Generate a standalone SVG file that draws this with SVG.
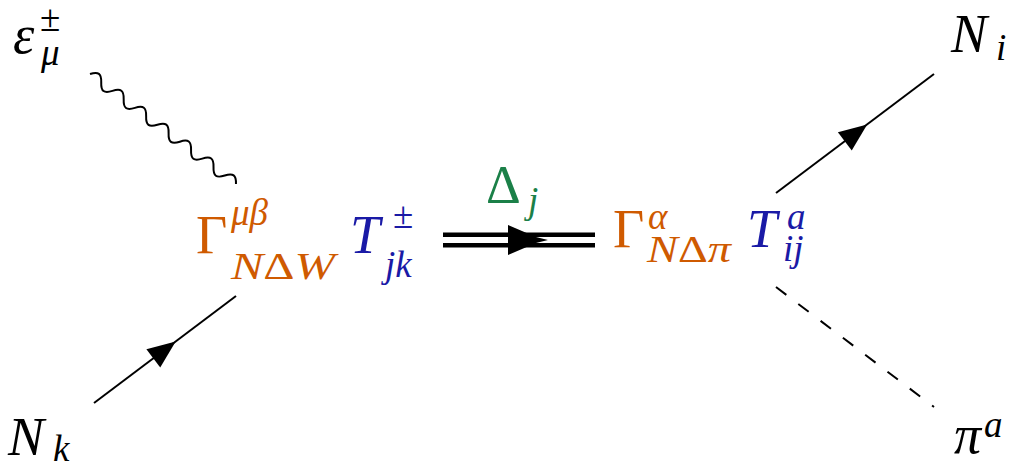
<svg xmlns="http://www.w3.org/2000/svg" width="1009" height="468" viewBox="0 0 1009 468">
<style>
text{font-family:'Liberation Serif','DejaVu Serif',serif;font-size:54px;fill:#000}
.it{font-style:italic}
.up{font-style:normal}
.s{font-size:37px}
.or{fill:#CF5A00}
.bl{fill:#1A1AA6}
.gr{fill:#1B8048}
.ln{stroke:#000;stroke-width:2;fill:none}
</style>
<rect width="1009" height="468" fill="#fff"/>
<g id="connectors">
  <path class="ln" transform="translate(90,74) rotate(37)" d="M0,0 c5.06,-7.3 9,-7.3 14.06,0 s9,7.3 14.06,0 s9,-7.3 14.06,0 s9,7.3 14.06,0 s9,-7.3 14.06,0 s9,7.3 14.06,0 s9,-7.3 14.06,0 s9,7.3 14.06,0 s9,-7.3 14.06,0 s9,7.3 14.06,0 s9,-7.3 14.06,0 s9,7.3 14.06,0 s9,-7.3 14.06,0"/>
  <line class="ln" x1="94" y1="403" x2="236" y2="296"/>
  <polygon points="-14,-11.5 14,0 -14,11.5" transform="translate(164.5,350) rotate(-37)"/>
  <line class="ln" x1="776" y1="193" x2="934" y2="74"/>
  <polygon points="-14,-11.5 14,0 -14,11.5" transform="translate(856,133) rotate(-37)"/>
  <line class="ln" x1="776" y1="287" x2="934" y2="407" stroke-dasharray="13 15"/>
  <line x1="443" y1="240" x2="595" y2="240" stroke="#000" stroke-width="15"/>
  <line x1="443" y1="240" x2="595" y2="240" stroke="#fff" stroke-width="6"/>
  <polygon points="508,225 536,237 548,240 536,243 508,255"/>
</g>
<g id="epsilon">
  <text class="it" x="13" y="53">ε</text>
  <text class="up s" x="40" y="31">±</text>
  <text class="it s" x="41" y="65">μ</text>
</g>
<g id="Nk">
  <text class="it" x="8" y="455">N</text>
  <text class="it s" x="53" y="461">k</text>
</g>
<g id="Ni">
  <text class="it" x="951" y="52">N</text>
  <text class="it s" x="996" y="60">i</text>
</g>
<g id="pi">
  <text class="it" x="954" y="453">π</text>
  <text class="it s" x="984" y="437">a</text>
</g>
<g id="vertex1">
  <text class="up or" x="196" y="253">Γ</text>
  <text class="it s or" x="231" y="225">μβ</text>
  <text class="s or" x="231" y="279" textLength="104" lengthAdjust="spacingAndGlyphs"><tspan class="it">N</tspan><tspan class="up">Δ</tspan><tspan class="it">W</tspan></text>
  <text class="it bl" x="350" y="253">T</text>
  <text class="up s bl" x="393" y="228">±</text>
  <text class="it s bl" x="385" y="277">jk</text>
</g>
<g id="delta">
  <text class="up gr" x="486" y="203">Δ</text>
  <text class="it s gr" x="528" y="213">j</text>
</g>
<g id="vertex2">
  <text class="up or" x="613" y="247">Γ</text>
  <text class="it s or" x="648" y="229">α</text>
  <text class="s or" x="647" y="262" textLength="84" lengthAdjust="spacingAndGlyphs"><tspan class="it">N</tspan><tspan class="up">Δ</tspan><tspan class="it">π</tspan></text>
  <text class="it bl" x="747" y="247">T</text>
  <text class="it s bl" x="787" y="229">a</text>
  <text class="it s bl" x="783" y="261">ij</text>
</g>
</svg>
